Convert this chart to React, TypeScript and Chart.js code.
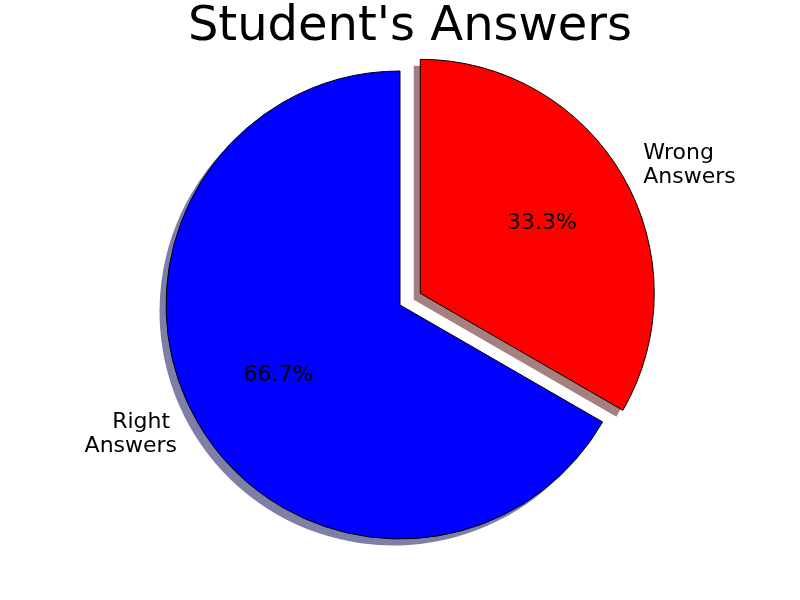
import React, { useEffect, useRef } from "react";
import { Chart, registerables } from "chart.js";

Chart.register(...registerables);

// Data (drawn clockwise from the top, as Chart.js does)
const categories: string[] = ["Wrong\nAnswers", "Right \nAnswers"];
const answerCounts: number[] = [1, 2];
const sliceColors: string[] = ["#ff0000", "#0000ff"];
const shadowColors: string[] = ["rgba(77,0,0,0.5)", "rgba(0,0,77,0.5)"];
const explodeOffsets: number[] = [23.4, 0];
const chartTitle = "Student's Answers";

const FONT = "'DejaVu Sans', 'Liberation Sans', sans-serif";

const piePlugin = {
  id: "mplPie",
  afterUpdate(chart: any) {
    const meta = chart.getDatasetMeta(0);
    meta.data.forEach((arc: any, i: number) => {
      const off = explodeOffsets[i] || 0;
      if (!off || arc._exploded) return;
      const orig = arc.draw;
      arc.draw = function (ctx: CanvasRenderingContext2D) {
        const mid = (this.startAngle + this.endAngle) / 2;
        ctx.save();
        ctx.translate(Math.cos(mid) * off, Math.sin(mid) * off);
        orig.call(this, ctx);
        ctx.restore();
      };
      arc._exploded = true;
    });
  },
  beforeDatasetsDraw(chart: any) {
    const ctx = chart.ctx;
    const meta = chart.getDatasetMeta(0);
    ctx.save();
    meta.data.forEach((arc: any, i: number) => {
      const { x, y, startAngle, endAngle, outerRadius } = arc.getProps(
        ["x", "y", "startAngle", "endAngle", "outerRadius"],
        true
      );
      const mid = (startAngle + endAngle) / 2;
      const off = explodeOffsets[i] || 0;
      const cx = x + Math.cos(mid) * off - 6.5;
      const cy = y + Math.sin(mid) * off + 6.5;
      ctx.beginPath();
      ctx.moveTo(cx, cy);
      ctx.arc(cx, cy, outerRadius, startAngle, endAngle);
      ctx.closePath();
      ctx.fillStyle = shadowColors[i];
      ctx.fill();
    });
    ctx.restore();
  },
  afterDatasetsDraw(chart: any) {
    const ctx = chart.ctx;
    const meta = chart.getDatasetMeta(0);
    const total = answerCounts.reduce((a, b) => a + b, 0);
    ctx.save();
    ctx.fillStyle = "#000000";
    ctx.font = `22px ${FONT}`;
    meta.data.forEach((arc: any, i: number) => {
      const { x, y, startAngle, endAngle, outerRadius } = arc.getProps(
        ["x", "y", "startAngle", "endAngle", "outerRadius"],
        true
      );
      const mid = (startAngle + endAngle) / 2;
      const off = explodeOffsets[i] || 0;
      const cx = x + Math.cos(mid) * off;
      const cy = y + Math.sin(mid) * off;
      // category label
      const lx = cx + Math.cos(mid) * outerRadius * 1.1;
      const ly = cy + Math.sin(mid) * outerRadius * 1.1;
      const lines = categories[i].split("\n");
      ctx.textAlign = Math.cos(mid) > 0 ? "left" : "right";
      ctx.textBaseline = "alphabetic";
      const lh = 23.5;
      lines.forEach((line, k) => {
        const by = ly + (k - (lines.length - 1) / 2) * lh + 6.3;
        ctx.fillText(line, lx, by);
      });
      // percentage
      const px = cx + Math.cos(mid) * outerRadius * 0.6;
      const py = cy + Math.sin(mid) * outerRadius * 0.6;
      ctx.textAlign = "center";
      const pct = ((answerCounts[i] / total) * 100).toFixed(1) + "%";
      ctx.fillText(pct, px, py + 5.5);
    });
    // title
    ctx.font = `48px ${FONT}`;
    ctx.textAlign = "center";
    ctx.textBaseline = "alphabetic";
    ctx.fillText(chartTitle, 410, 39.5);
    ctx.restore();
  },
};

export default function App() {
  const ref = useRef<HTMLCanvasElement | null>(null);
  useEffect(() => {
    if (!ref.current) return;
    const chart = new Chart(ref.current, {
      type: "pie",
      data: {
        labels: categories,
        datasets: [
          {
            data: answerCounts,
            backgroundColor: sliceColors,
            borderColor: "#000000",
            borderWidth: 1,
            borderJoinStyle: "miter",
            hoverOffset: 0,
          } as any,
        ],
      },
      options: {
        animation: false,
        responsive: false,
        devicePixelRatio: 1,
        rotation: 0,
        radius: 234,
        layout: { padding: { top: 10, bottom: 0, left: 0, right: 0 } },
        plugins: {
          legend: { display: false },
          title: { display: false },
          tooltip: { enabled: false },
        },
        events: [],
      } as any,
      plugins: [piePlugin],
    });
    return () => chart.destroy();
  }, []);
  return (
    <div style={{ position: "absolute", left: 0, top: 0, width: 800, height: 600, background: "#ffffff" }}>
      <canvas ref={ref} width={800} height={600} />
    </div>
  );
}
